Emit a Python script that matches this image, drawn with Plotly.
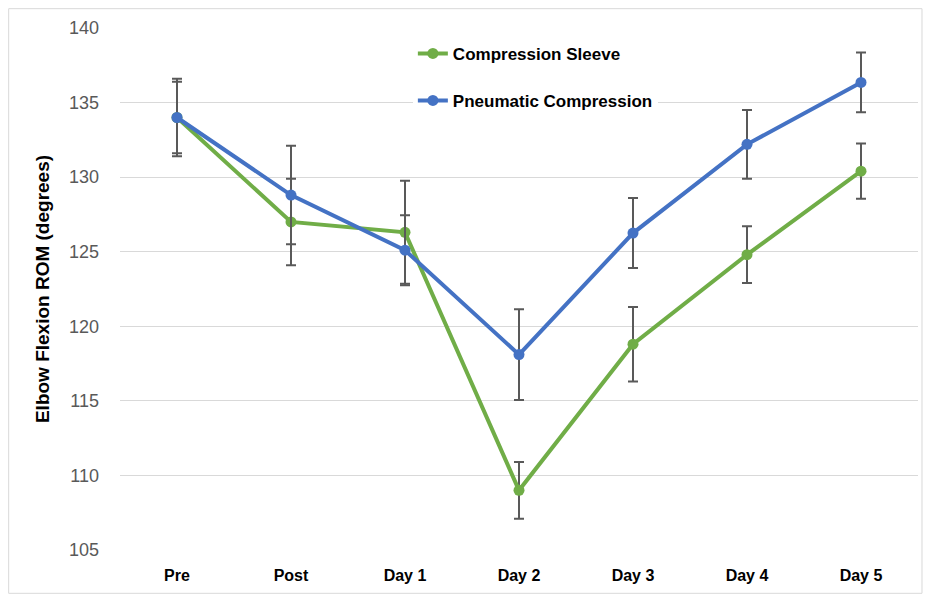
import plotly.graph_objects as go

categories = ["Pre", "Post", "Day 1", "Day 2", "Day 3", "Day 4", "Day 5"]
sleeve_mean = [134.0, 127.0, 126.3, 109.0, 118.8, 124.8, 130.4]
sleeve_err = [2.4, 2.9, 3.45, 1.9, 2.5, 1.9, 1.85]
pneumatic_mean = [134.0, 128.8, 125.1, 118.1, 126.25, 132.2, 136.35]
pneumatic_err = [2.6, 3.3, 2.35, 3.05, 2.35, 2.3, 2.0]
y_ticks = [105, 110, 115, 120, 125, 130, 135, 140]

GREEN = "#70AD47"
BLUE = "#4472C4"
ERR = "#595959"

fig = go.Figure()
fig.add_trace(go.Scatter(
    x=categories, y=sleeve_mean, name="Compression Sleeve", legendgroup="g1",
    mode="lines+markers",
    line=dict(color=GREEN, width=4),
    marker=dict(color=GREEN, size=11),
    error_y=dict(type="data", array=sleeve_err, visible=True, color=ERR, thickness=2, width=5),
))
fig.add_trace(go.Scatter(
    x=categories, y=pneumatic_mean, name="Pneumatic Compression", legendgroup="g2",
    mode="lines+markers",
    line=dict(color=BLUE, width=4),
    marker=dict(color=BLUE, size=11),
    error_y=dict(type="data", array=pneumatic_err, visible=True, color=ERR, thickness=2, width=5),
))

# page has an 8px body margin, so the figure is sized/offset to compensate
fig.update_layout(
    width=916, height=586,
    margin=dict(l=112, r=6, t=20, b=44),
    paper_bgcolor="white", plot_bgcolor="white",
    font=dict(family="Arial", color="#595959"),
    showlegend=True,
    legend=dict(
        x=0.367, y=0.985, xanchor="left", yanchor="top",
        bgcolor="white", borderwidth=0,
        font=dict(family="Arial", size=17, color="black", weight="bold"),
        tracegroupgap=22,
    ),
    xaxis=dict(
        range=[-0.5, 6.5],
        showgrid=False, showline=False, zeroline=False,
        tickfont=dict(family="Arial", size=16, color="black", weight="bold"),
        ticklabelstandoff=14,
    ),
    yaxis=dict(
        range=[105, 140], tickvals=y_ticks,
        showgrid=True, gridcolor="#D9D9D9", gridwidth=1,
        showline=False, zeroline=False,
        tickfont=dict(family="Arial", size=18, color="#595959"),
        ticklabelstandoff=20,
        title=dict(text="Elbow Flexion ROM (degrees)", standoff=14,
                   font=dict(family="Arial", size=19, color="black", weight="bold")),
    ),
    shapes=[dict(type="rect", xref="paper", yref="paper",
                 x0=-0.1395, x1=1.005, y0=-0.083, y1=1.037,
                 line=dict(color="#D9D9D9", width=1), fillcolor="rgba(0,0,0,0)", layer="below")],
)

fig.write_html("out.html")
